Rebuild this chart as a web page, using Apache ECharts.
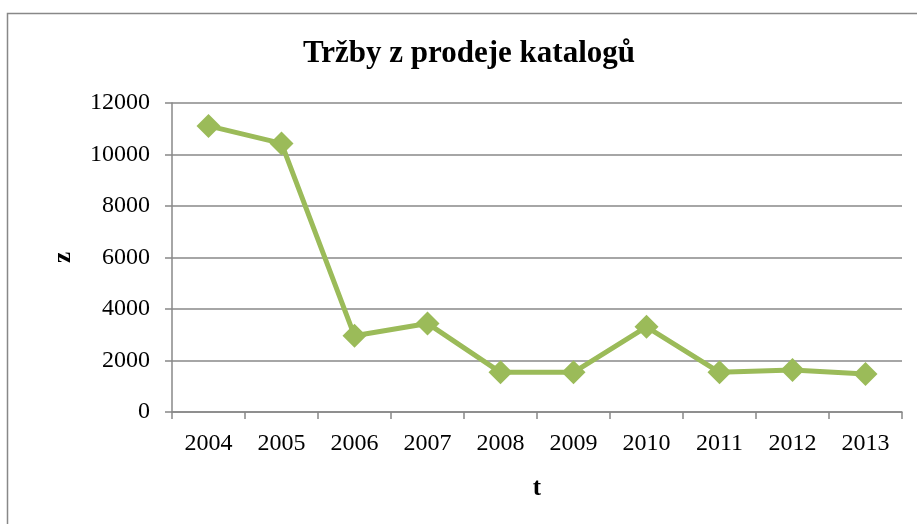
<!DOCTYPE html>
<html>
<head>
<meta charset="utf-8">
<script src="https://cdn.jsdelivr.net/npm/echarts@6/dist/echarts.min.js"></script>
<style>
  html, body { margin: 0; padding: 0; background: #fff; }
  #chart { width: 917px; height: 524px; }
</style>
</head>
<body>
<div id="chart"></div>
<script>
// data
var years = ['2004', '2005', '2006', '2007', '2008', '2009', '2010', '2011', '2012', '2013'];
var trzby = [11110, 10430, 2960, 3440, 1540, 1540, 3310, 1540, 1630, 1480];
var yTicks = [0, 2000, 4000, 6000, 8000, 10000, 12000];

var font = '"Liberation Serif", "Times New Roman", serif';
var chart = echarts.init(document.getElementById('chart'));

chart.setOption({
  backgroundColor: '#fff',
  animation: false,
  title: {
    text: 'Tržby z prodeje katalogů',
    left: 464,
    top: 33,
    textAlign: 'center',
    textStyle: { fontFamily: font, fontSize: 31, fontWeight: 'bold', color: '#000' }
  },
  graphic: [{
    type: 'rect',
    shape: { x: 7.5, y: 13.5, width: 930, height: 530 },
    style: { fill: 'none', stroke: '#888', lineWidth: 1.5 },
    silent: true
  }],
  grid: { left: 172, right: 15, top: 103, bottom: 112 },
  xAxis: {
    type: 'category',
    data: years,
    boundaryGap: true,
    name: 't',
    nameLocation: 'middle',
    nameGap: 64,
    nameTextStyle: { fontFamily: font, fontSize: 25, fontWeight: 'bold', color: '#000' },
    axisLine: { lineStyle: { color: '#888', width: 1.5 } },
    axisTick: { show: true, length: 7, lineStyle: { color: '#888', width: 1.5 } },
    axisLabel: { fontFamily: font, fontSize: 24, color: '#000', margin: 20 },
    splitLine: { show: false }
  },
  yAxis: {
    type: 'value',
    min: yTicks[0],
    max: yTicks[yTicks.length - 1],
    interval: 2000,
    name: 'z',
    nameLocation: 'middle',
    nameGap: 96,
    nameRotate: 90,
    nameTextStyle: { fontFamily: font, fontSize: 25, fontWeight: 'bold', color: '#000' },
    axisLine: { show: true, lineStyle: { color: '#888', width: 1.5 } },
    axisTick: { show: true, length: 7, lineStyle: { color: '#888', width: 1.5 } },
    axisLabel: {
      fontFamily: font, fontSize: 24, color: '#000', margin: 22,
      formatter: function (v) { return String(v); }
    },
    splitLine: { show: true, lineStyle: { color: '#888', width: 1.5 } }
  },
  series: [{
    type: 'line',
    data: trzby,
    symbol: 'diamond',
    symbolSize: 24,
    lineStyle: { color: '#9BBB59', width: 5 },
    itemStyle: { color: '#9BBB59' }
  }]
});
</script>
</body>
</html>
